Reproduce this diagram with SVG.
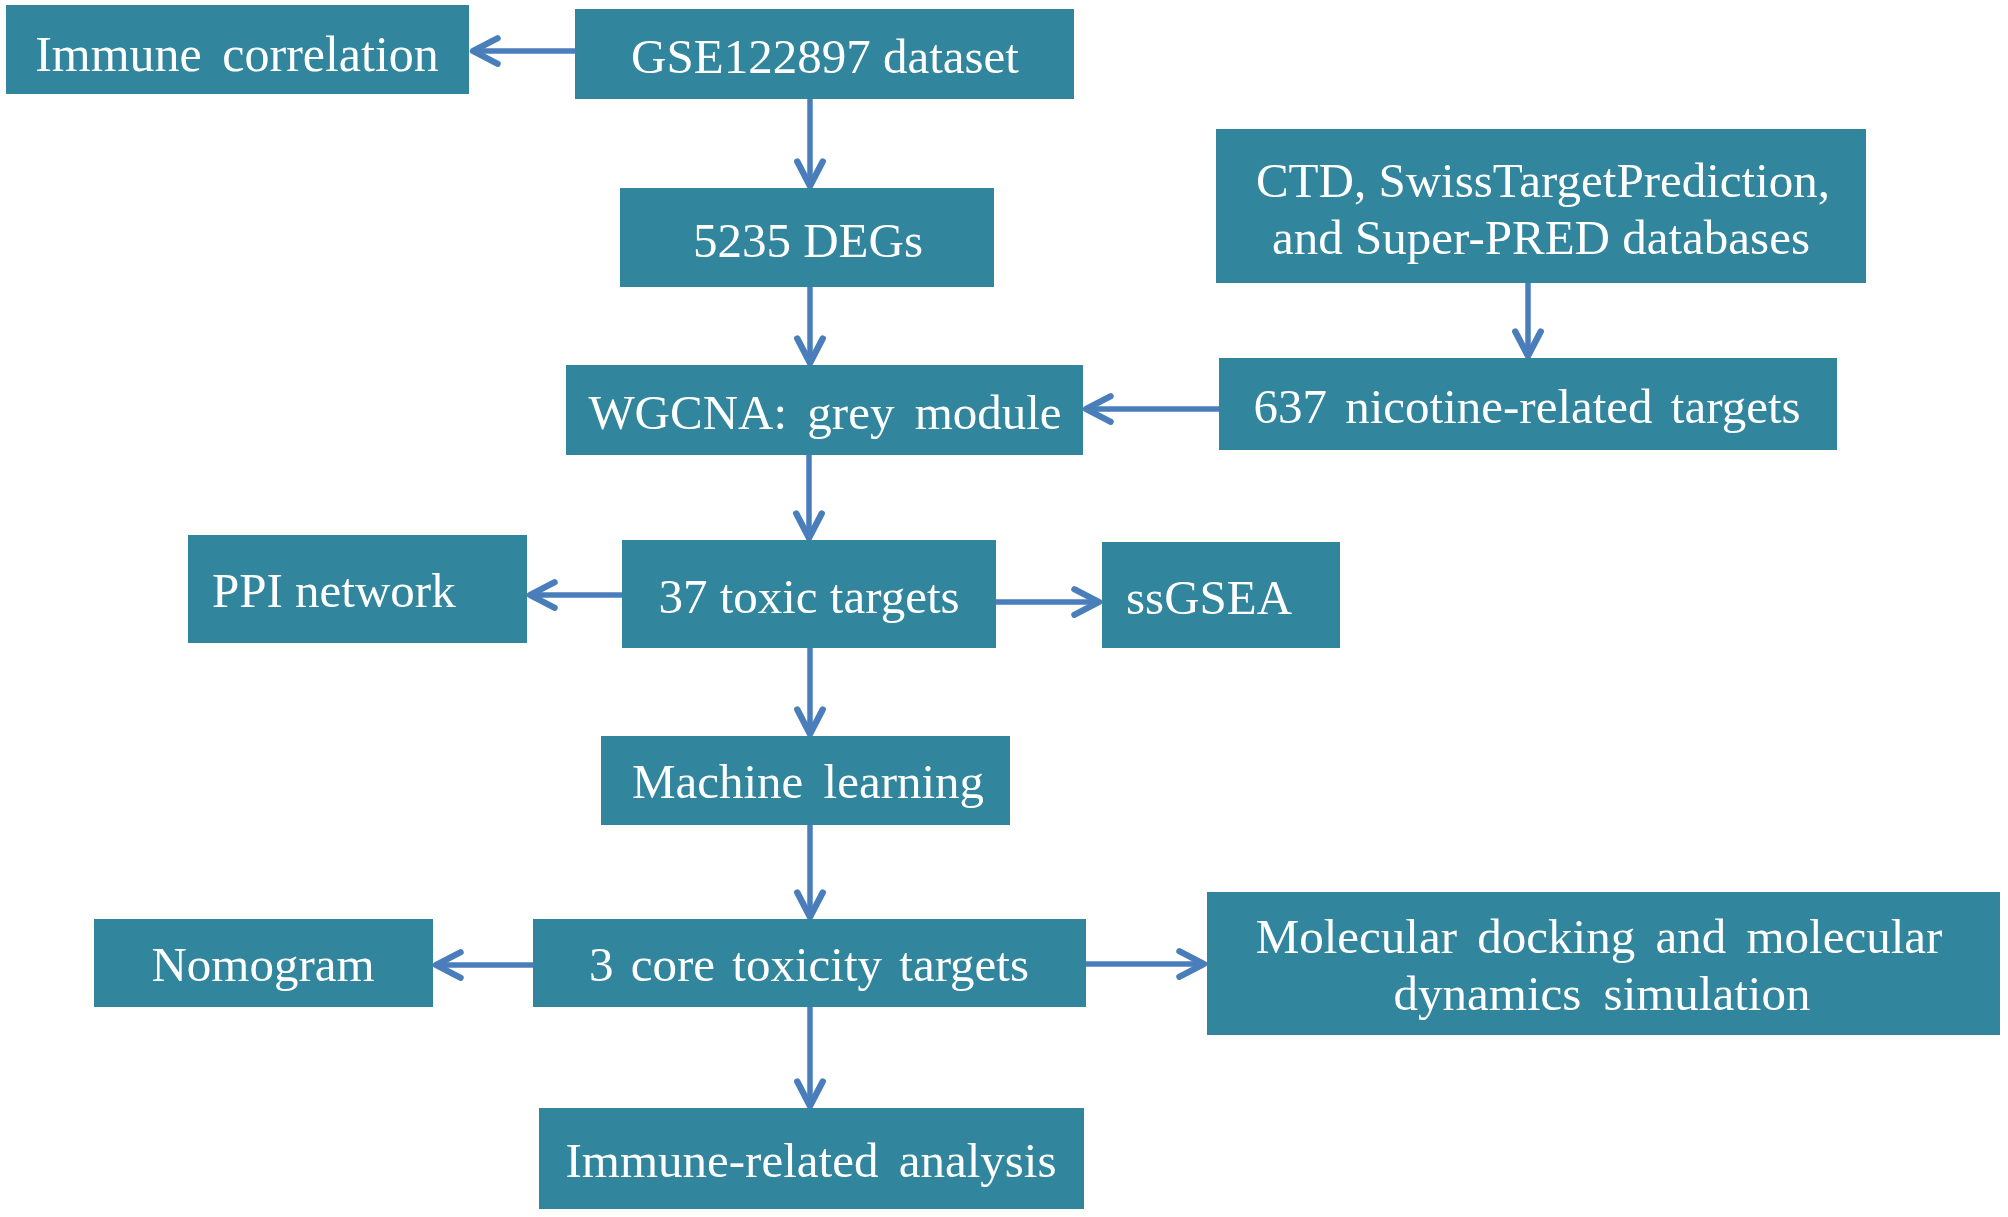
<svg xmlns="http://www.w3.org/2000/svg" width="2008" height="1217" viewBox="0 0 2008 1217">
<defs>
<marker id="ah" markerUnits="userSpaceOnUse" markerWidth="40" markerHeight="40" refX="0" refY="0" viewBox="-40 -20 44 40" orient="auto" overflow="visible">
<path d="M -27 -14 L 0 0 L -27 14" fill="none" stroke="#4A7EBB" stroke-width="7" stroke-linecap="round" stroke-linejoin="round"/>
</marker>
</defs>
<rect width="2008" height="1217" fill="#ffffff"/>
<g id="connectors" stroke="#4A7EBB" stroke-width="5.5" fill="none" marker-end="url(#ah)">
<line x1="575" y1="51" x2="473" y2="51"/>
<line x1="810" y1="99" x2="810" y2="186"/>
<line x1="810" y1="287" x2="810" y2="363"/>
<line x1="1528" y1="283" x2="1528" y2="356"/>
<line x1="1219" y1="409" x2="1086" y2="409"/>
<line x1="809" y1="455" x2="809" y2="538"/>
<line x1="622" y1="595" x2="530" y2="595"/>
<line x1="996" y1="602" x2="1099" y2="602"/>
<line x1="810" y1="648" x2="810" y2="734"/>
<line x1="810" y1="825" x2="810" y2="917"/>
<line x1="533" y1="965" x2="436" y2="965"/>
<line x1="1086" y1="964" x2="1204" y2="964"/>
<line x1="810" y1="1007" x2="810" y2="1106"/>
</g>
<g fill="#31859C">
<g id="immune-correlation">
<rect x="6" y="5" width="463" height="89"/>
<text font-family="Liberation Serif" font-size="50" fill="#ffffff" text-anchor="middle" word-spacing="8" x="237" y="71">Immune correlation</text>
</g>
<g id="gse-dataset">
<rect x="575" y="9" width="499" height="90"/>
<text font-family="Liberation Serif" font-size="49" fill="#ffffff" text-anchor="middle" x="825" y="73">GSE122897 dataset</text>
</g>
<g id="degs">
<rect x="620" y="188" width="374" height="99"/>
<text font-family="Liberation Serif" font-size="49" fill="#ffffff" text-anchor="middle" x="808" y="257">5235 DEGs</text>
</g>
<g id="databases">
<rect x="1216" y="129" width="650" height="154"/>
<text font-family="Liberation Serif" font-size="49" fill="#ffffff" text-anchor="middle" x="1543" y="197">CTD, SwissTargetPrediction,</text>
<text font-family="Liberation Serif" font-size="49" fill="#ffffff" text-anchor="middle" x="1541" y="254">and Super-PRED databases</text>
</g>
<g id="nicotine-targets">
<rect x="1219" y="358" width="618" height="92"/>
<text font-family="Liberation Serif" font-size="49" fill="#ffffff" text-anchor="middle" word-spacing="6" x="1527" y="423">637 nicotine-related targets</text>
</g>
<g id="wgcna">
<rect x="566" y="365" width="517" height="90"/>
<text font-family="Liberation Serif" font-size="49" fill="#ffffff" text-anchor="middle" word-spacing="8" x="825" y="429">WGCNA: grey module</text>
</g>
<g id="ppi-network">
<rect x="188" y="535" width="339" height="108"/>
<text font-family="Liberation Serif" font-size="49" fill="#ffffff" x="212" y="607">PPI network</text>
</g>
<g id="toxic-targets">
<rect x="622" y="540" width="374" height="108"/>
<text font-family="Liberation Serif" font-size="49" fill="#ffffff" text-anchor="middle" x="809" y="613">37 toxic targets</text>
</g>
<g id="ssgsea">
<rect x="1102" y="542" width="238" height="106"/>
<text font-family="Liberation Serif" font-size="49" fill="#ffffff" x="1126" y="614">ssGSEA</text>
</g>
<g id="machine-learning">
<rect x="601" y="736" width="409" height="89"/>
<text font-family="Liberation Serif" font-size="49" fill="#ffffff" text-anchor="middle" word-spacing="8" x="808" y="798">Machine learning</text>
</g>
<g id="nomogram">
<rect x="94" y="919" width="339" height="88"/>
<text font-family="Liberation Serif" font-size="49" fill="#ffffff" text-anchor="middle" x="263" y="981">Nomogram</text>
</g>
<g id="core-targets">
<rect x="533" y="919" width="553" height="88"/>
<text font-family="Liberation Serif" font-size="49" fill="#ffffff" text-anchor="middle" word-spacing="5" x="809" y="981">3 core toxicity targets</text>
</g>
<g id="molecular-docking">
<rect x="1207" y="892" width="793" height="143"/>
<text font-family="Liberation Serif" font-size="49" fill="#ffffff" text-anchor="middle" word-spacing="8" x="1599" y="953">Molecular docking and molecular</text>
<text font-family="Liberation Serif" font-size="49" fill="#ffffff" text-anchor="middle" word-spacing="10" x="1602" y="1010">dynamics simulation</text>
</g>
<g id="immune-related-analysis">
<rect x="539" y="1108" width="545" height="101"/>
<text font-family="Liberation Serif" font-size="49" fill="#ffffff" text-anchor="middle" word-spacing="8" x="811" y="1177">Immune-related analysis</text>
</g>
</g>
</svg>
